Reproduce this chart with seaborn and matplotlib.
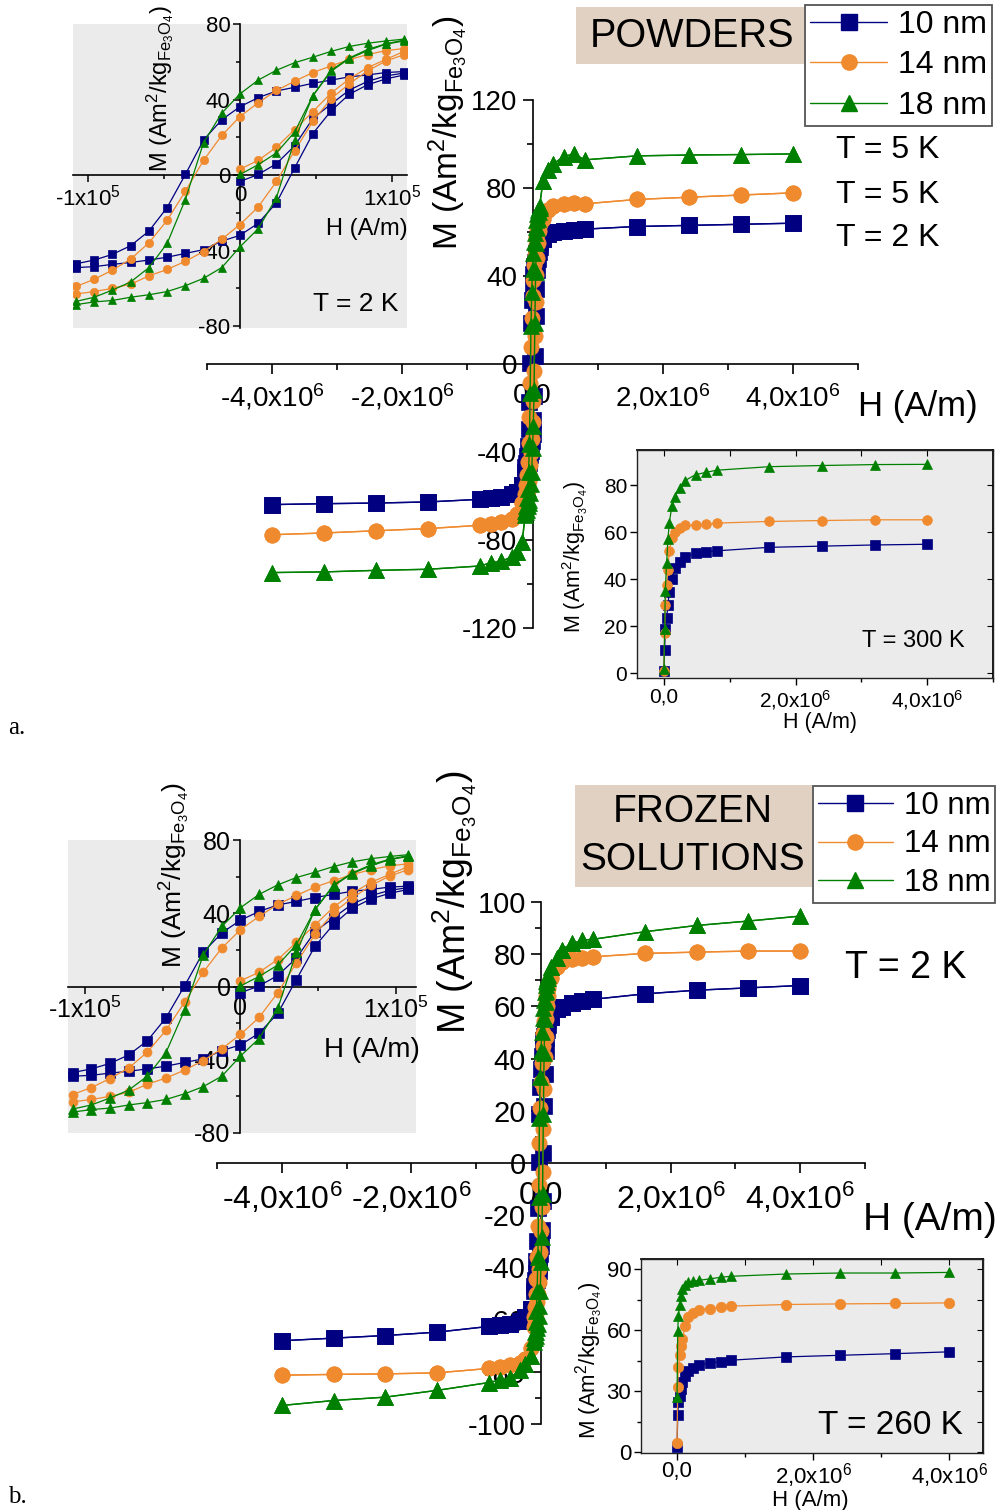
import matplotlib
matplotlib.use("Agg")
import matplotlib.pyplot as plt
import seaborn as sns
from matplotlib.lines import Line2D
from matplotlib.patches import Rectangle
from matplotlib.ticker import FixedLocator, MultipleLocator

sns.set_theme(style="ticks")
plt.rcParams["font.family"] = ["Liberation Sans", "DejaVu Sans"]
plt.rcParams["mathtext.default"] = "regular"
plt.rcParams["axes.unicode_minus"] = False
for k in ["text.color", "axes.labelcolor", "xtick.color", "ytick.color", "axes.edgecolor"]:
    plt.rcParams[k] = "black"

# ---------------- data ----------------
SIZES = ["10 nm", "14 nm", "18 nm"]
COLORS = {"10 nm": "#000080", "14 nm": "#F08A2E", "18 nm": "#008000"}
MARKERS = {"10 nm": "s", "14 nm": "o", "18 nm": "^"}

# main loops: outer field points (A/m)
H_NEG = [-4.0e6, -3.2e6, -2.4e6, -1.6e6, -0.8e6, -0.64e6, -0.48e6, -0.32e6, -0.24e6, -0.16e6]
H_POS = [0.16e6, 0.24e6, 0.32e6, 0.48e6, 0.64e6, 0.8e6, 1.6e6, 2.4e6, 3.2e6, 4.0e6]

# low-field hysteresis loop (2 K), same points for both panels
H_LOOP = [-108000, -96000, -84000, -72000, -60000, -48000, -36000, -24000, -12000, 0,
          12000, 24000, 36000, 48000, 60000, 72000, 84000, 96000, 108000]
H_VIRGIN = [0, 12000, 24000, 36000, 48000, 60000, 72000, 84000, 96000, 108000]

LOOP_DESC_10 = [-47, -45, -42, -37.4, -29.7, -17.2, 0.3, 18.6, 29.3, 36.2, 41, 44.5, 46.5, 48.6, 50.3, 52, 53, 54.3, 54.8]
LOOP_ASC_10 = [-49, -48.5, -47.3, -46.3, -45, -43.5, -41.5, -39.5, -35, -31.9, -25.5, -14.7, 3.8, 22, 34, 42.8, 47.8, 50.9, 53]
VIRGIN_10 = [-3.4, 0.3, 6, 15.5, 30, 37.6, 45, 49.6, 52.5, 54]

LOOP_DESC_14 = [-59, -55.2, -50.3, -44.5, -35.9, -24, -8.6, 7.8, 21, 31, 38.3, 44.8, 49.7, 54.3, 57.8, 61.2, 63.8, 65.9, 67]
LOOP_ASC_14 = [-63, -61.7, -60, -57.8, -53.4, -50, -45.7, -40.5, -34, -26.2, -16.9, -3.4, 12.9, 28.4, 40.5, 48.3, 55.2, 60.3, 63.8]
VIRGIN_14 = [3.1, 7.8, 14.7, 24.1, 33.6, 43.4, 50.9, 56.9, 61.2, 65.5]

LOOP_DESC_18 = [-66.9, -64.7, -60.9, -56.6, -49, -36.2, -13, 17.2, 32.8, 43, 50.3, 55.5, 59.5, 62.4, 65.5, 68.1, 69.8, 71, 72]
LOOP_ASC_18 = [-68.6, -67.2, -66.4, -64.7, -63.4, -61.7, -58.6, -54.7, -49, -38, -28.4, -12, 18.6, 42, 55, 61.7, 65.9, 69.3, 71]
VIRGIN_18 = [0.3, 5.5, 11.7, 22.8, 42, 55.5, 62, 66.5, 69.5, 71.5]

# panel a (powders) high-field points
A_NEG_10 = [-63.9, -63.5, -63.2, -62.7, -61.5, -60.9, -60.5, -59, -58, -55]
A_NEG_14 = [-77.6, -76.8, -75.8, -74.8, -73.3, -72.6, -71.8, -70.3, -68, -63]
A_NEG_18 = [-94.8, -94.5, -93.8, -93.3, -91.8, -90.3, -89.7, -87.7, -85.5, -81]
A_POS_10 = [57, 59, 59.8, 60.5, 61, 61.3, 62.5, 63, 63.5, 64]
A_POS_14 = [66, 70, 71.6, 72.8, 73, 72.8, 74.8, 75.8, 76.8, 77.8]
A_POS_18 = [83, 88, 91, 94.3, 95.5, 92.8, 94.6, 95, 95.2, 95.5]

# panel b (frozen solutions) high-field points
B_NEG_10 = [-68.1, -67.1, -66.1, -64.8, -62.6, -62.2, -61.7, -60.6, -59, -56]
B_NEG_14 = [-81.3, -81, -80.8, -80.4, -78.7, -78.2, -77.5, -76.5, -75, -71]
B_NEG_18 = [-92.9, -91, -89.7, -87.1, -84.1, -83.2, -82.3, -79.4, -77, -74]
B_POS_10 = [56, 59, 59.8, 61.4, 62, 62.7, 64.8, 66.2, 67.1, 68]
B_POS_14 = [71, 75, 77, 78, 78.6, 79, 80.3, 80.8, 81.2, 81.2]
B_POS_18 = [75, 78.5, 81.8, 84.1, 85.4, 85.7, 88.6, 91, 92.7, 94.6]

# room-temperature magnetisation curves
H_SAT = [0, 1e4, 2e4, 4e4, 6e4, 8e4, 1.2e5, 1.6e5, 2.4e5, 3.2e5, 4.8e5, 6.4e5, 8e5, 1.6e6, 2.4e6, 3.2e6, 4.0e6]
SAT300_10 = [1, 10, 19, 23.5, 29, 34.6, 40.3, 44.6, 47.5, 49.6, 51, 51.7, 52.1, 53.6, 54.1, 54.6, 54.9]
SAT300_14 = [1, 17, 29, 37.5, 44, 52, 57.5, 60.3, 62, 62.9, 63.1, 63.4, 63.9, 64.6, 65, 65.3, 65.3]
SAT300_18 = [1.7, 19, 35, 47, 57, 64, 71, 75, 79, 82, 84.5, 85.5, 86.4, 87.9, 88.4, 88.8, 88.9]
SAT260_10 = [2.4, 18, 24.5, 27.7, 31, 34.3, 37.5, 40, 41.5, 42.7, 43.7, 44.5, 45.2, 46.8, 47.6, 48.4, 49.3]
SAT260_14 = [4.6, 31.8, 41.6, 47.6, 52, 55.5, 62, 66.6, 68.5, 70.1, 70.6, 71.5, 71.8, 72.6, 72.9, 73.1, 73.4]
SAT260_18 = [27, 59.5, 67, 72.6, 76.7, 80, 82.4, 83.5, 84, 84.5, 85.2, 86, 86.5, 87.6, 88.1, 88.1, 88.4]

LOOP_DESC = {"10 nm": LOOP_DESC_10, "14 nm": LOOP_DESC_14, "18 nm": LOOP_DESC_18}
LOOP_ASC = {"10 nm": LOOP_ASC_10, "14 nm": LOOP_ASC_14, "18 nm": LOOP_ASC_18}
VIRGIN = {"10 nm": VIRGIN_10, "14 nm": VIRGIN_14, "18 nm": VIRGIN_18}
A_NEG = {"10 nm": A_NEG_10, "14 nm": A_NEG_14, "18 nm": A_NEG_18}
A_POS = {"10 nm": A_POS_10, "14 nm": A_POS_14, "18 nm": A_POS_18}
B_NEG = {"10 nm": B_NEG_10, "14 nm": B_NEG_14, "18 nm": B_NEG_18}
B_POS = {"10 nm": B_POS_10, "14 nm": B_POS_14, "18 nm": B_POS_18}
SAT300 = {"10 nm": SAT300_10, "14 nm": SAT300_14, "18 nm": SAT300_18}
SAT260 = {"10 nm": SAT260_10, "14 nm": SAT260_14, "18 nm": SAT260_18}

MAIN_XTICKS = [-4e6, -2e6, 0, 2e6, 4e6]
MAIN_XTICKLABELS = ["-4,0x10$^6$", "-2,0x10$^6$", "0,0", "2,0x10$^6$", "4,0x10$^6$"]
A_YTICKS = [-120, -80, -40, 0, 40, 80, 120]
B_YTICKS = [-100, -80, -60, -40, -20, 0, 20, 40, 60, 80, 100]
LOOP_XTICKS = [-1e5, 0, 1e5]
LOOP_XTICKLABELS = ["-1x10$^5$", "0", "1x10$^5$"]
LOOP_YTICKS = [-80, -40, 0, 40, 80]
SAT_XTICKS = [0, 2e6, 4e6]
SAT_XTICKLABELS = ["0,0", "2,0x10$^6$", "4,0x10$^6$"]
SAT300_YTICKS = [0, 20, 40, 60, 80]
SAT260_YTICKS = [0, 30, 60, 90]

M_LABEL = "M (Am$^2$/kg$_{Fe_3O_4}$)"
H_LABEL = "H (A/m)"

# ---------------- figure ----------------
FW, FH = 1002, 1510
fig = plt.figure(figsize=(FW / 100, FH / 100), dpi=100)
GRAY = "#EBEBEB"
TAN = "#E1D1C2"


def add_ax(px):
    x0, y0, x1, y1 = px
    return fig.add_axes([x0 / FW, 1 - y1 / FH, (x1 - x0) / FW, (y1 - y0) / FH])


def series(ax, h, m, size, ms, lw, z=3):
    sns.lineplot(x=h, y=m, sort=False, estimator=None, color=COLORS[size],
                 marker=MARKERS[size], markersize=ms, markeredgecolor=COLORS[size],
                 markeredgewidth=0.5, linewidth=lw, legend=False, ax=ax, zorder=z)


def place_labels(ax, fs, xy_x, xy_y):
    ax.set_xlabel(H_LABEL, fontsize=fs[0])
    ax.set_ylabel(M_LABEL, fontsize=fs[1])
    ax.xaxis.set_label_coords(*xy_x)
    ax.yaxis.set_label_coords(*xy_y)
    ax.xaxis.label.set_va("center")
    ax.yaxis.label.set_va("center")


def cross_axes(ax):
    ax.spines["top"].set_visible(False)
    ax.spines["right"].set_visible(False)
    ax.spines["left"].set_position(("data", 0))
    ax.spines["bottom"].set_position(("data", 0))
    for s in ["left", "bottom"]:
        ax.spines[s].set_linewidth(1.2)
        ax.spines[s].set_color("black")


def main_panel(px, ylim, yticks, yminor, neg, pos, fs_x, fs_y, fs_lab, xy_x, xy_y):
    ax = add_ax(px)
    ax.patch.set_alpha(0)
    hh = H_NEG + H_LOOP + H_POS
    for size in SIZES:
        series(ax, hh, neg[size] + LOOP_DESC[size] + pos[size], size, 11, 1.0)
        series(ax, hh, neg[size] + LOOP_ASC[size] + pos[size], size, 11, 1.0)
    ax.set_xlim(-5e6, 5e6)
    ax.set_ylim(*ylim)
    cross_axes(ax)
    ax.xaxis.set_major_locator(FixedLocator(MAIN_XTICKS))
    ax.set_xticklabels(MAIN_XTICKLABELS)
    ax.xaxis.set_minor_locator(MultipleLocator(1e6))
    ax.yaxis.set_major_locator(FixedLocator(yticks))
    ax.set_yticklabels([str(v) for v in yticks])
    ax.yaxis.set_minor_locator(MultipleLocator(yminor))
    ax.tick_params(which="major", direction="out", length=7, width=1.2)
    ax.tick_params(which="minor", direction="out", length=4, width=1.2)
    ax.tick_params(axis="x", labelsize=fs_x, pad=6)
    ax.tick_params(axis="y", labelsize=fs_y, pad=4)
    place_labels(ax, (fs_lab, fs_lab - 1), xy_x, xy_y)
    return ax


def loop_inset(px, xlim, ylim, fs_t, fs_x, fs_y, xy_x, xy_y, ms):
    ax = add_ax(px)
    ax.set_facecolor(GRAY)
    for size in SIZES:
        series(ax, H_LOOP, LOOP_DESC[size], size, ms, 0.9)
        series(ax, H_LOOP, LOOP_ASC[size], size, ms, 0.9)
        series(ax, H_VIRGIN, VIRGIN[size], size, ms, 0.9)
    ax.set_xlim(*xlim)
    ax.set_ylim(*ylim)
    cross_axes(ax)
    ax.xaxis.set_major_locator(FixedLocator(LOOP_XTICKS))
    ax.set_xticklabels(LOOP_XTICKLABELS)
    ax.xaxis.set_minor_locator(MultipleLocator(5e4))
    ax.yaxis.set_major_locator(FixedLocator(LOOP_YTICKS))
    ax.set_yticklabels([str(v) for v in LOOP_YTICKS])
    ax.yaxis.set_minor_locator(MultipleLocator(20))
    ax.tick_params(which="major", direction="out", length=5, width=1.1, labelsize=fs_t, pad=2)
    ax.tick_params(which="minor", direction="out", length=3, width=1.1)
    place_labels(ax, (fs_x, fs_y), xy_x, xy_y)
    return ax


def sat_inset(px, xlim, ylim, yticks, yminor, data, fs_t, fs_lab, xy_x, xy_y, ms, xpad=2):
    ax = add_ax(px)
    ax.set_facecolor(GRAY)
    for size in SIZES:
        series(ax, H_SAT, data[size], size, ms, 0.9)
    ax.set_xlim(*xlim)
    ax.set_ylim(*ylim)
    for s in ax.spines.values():
        s.set_linewidth(1.0)
        s.set_color("#222222")
    ax.xaxis.set_major_locator(FixedLocator(SAT_XTICKS))
    ax.set_xticklabels(SAT_XTICKLABELS)
    ax.xaxis.set_minor_locator(MultipleLocator(1e6))
    ax.yaxis.set_major_locator(FixedLocator(yticks))
    ax.set_yticklabels([str(v) for v in yticks])
    if yminor:
        ax.yaxis.set_minor_locator(MultipleLocator(yminor))
    ax.tick_params(which="major", direction="out", length=5, width=1.0, labelsize=fs_t, pad=2)
    ax.tick_params(axis="x", pad=xpad)
    ax.tick_params(which="minor", direction="out", length=3, width=1.0)
    top = ax.secondary_xaxis("top")
    top.xaxis.set_major_locator(FixedLocator(SAT_XTICKS))
    top.xaxis.set_minor_locator(MultipleLocator(1e6))
    top.tick_params(which="both", direction="in", labeltop=False, length=4, width=0.8)
    right = ax.secondary_yaxis("right")
    right.yaxis.set_major_locator(FixedLocator(yticks))
    if yminor:
        right.yaxis.set_minor_locator(MultipleLocator(yminor))
    right.tick_params(which="both", direction="in", labelright=False, length=4, width=0.8)
    place_labels(ax, (fs_lab, fs_lab), xy_x, xy_y)
    return ax


def legend_at(x1, y0, fs, spacing):
    handles = [Line2D([], [], color=COLORS[s], marker=MARKERS[s], markersize=11,
                      markeredgecolor=COLORS[s], lw=1.0) for s in SIZES]
    leg = fig.legend(handles, SIZES, loc="upper right", bbox_to_anchor=(x1 / FW, 1 - y0 / FH),
                     fontsize=fs, frameon=True, fancybox=False, edgecolor="#555555",
                     framealpha=1, borderpad=0.15, labelspacing=spacing, handlelength=2.4,
                     handletextpad=0.35, borderaxespad=0)
    leg.get_frame().set_linewidth(1.3)


def tan_box(x0, y0, x1, y1):
    fig.add_artist(Rectangle((x0 / FW, 1 - y1 / FH), (x1 - x0) / FW, (y1 - y0) / FH,
                             transform=fig.transFigure, facecolor=TAN, edgecolor="none", zorder=5))


def ftext(x, y, s, fs, ha="center", **kw):
    fig.text(x / FW, 1 - y / FH, s, fontsize=fs, ha=ha, va="center", zorder=6, **kw)


# ---- panel a: powders ----
main_panel((207, 100, 858, 628), (-120, 120), A_YTICKS, 20, A_NEG, A_POS,
           20, 20, 25, (1.092, 0.4186), (0.370, 0.9375))
ax_a1 = loop_inset((73, 24, 407, 328), (-1.1e5, 1.1e5), (-81, 80), 16, 17, 17,
                   (0.88, 0.326), (0.26, 0.789), 6)
ax_a1.text(0.847, 0.079, "T = 2 K", transform=ax_a1.transAxes, fontsize=19,
           ha="center", va="center")
ax_a2 = sat_inset((637, 450, 993, 678), (-0.41e6, 5.0e6), (-2, 95), SAT300_YTICKS, None,
                  SAT300, 15, 15.5, (0.514, -0.197), (-0.174, 0.531), 7)
ax_a2.text(0.775, 0.162, "T = 300 K", transform=ax_a2.transAxes, fontsize=17,
           ha="center", va="center")
tan_box(576, 7, 804, 64)
ftext(692, 36, "POWDERS", 28.5)
legend_at(992, 5, 23, 0.33)
ftext(836, 150, "T = 5 K", 23, ha="left")
ftext(836, 195, "T = 5 K", 23, ha="left")
ftext(836, 238, "T = 2 K", 23, ha="left")
ftext(8, 728, "a.", 18, ha="left", family=["Liberation Serif", "DejaVu Serif"])

# ---- panel b: frozen solutions ----
main_panel((217, 902, 865, 1424), (-100, 100), B_YTICKS, 10, B_NEG, B_POS,
           23, 21, 28, (1.100, 0.391), (0.367, 1.0))
ax_b1 = loop_inset((68, 840, 416, 1133), (-1.11e5, 1.13e5), (-80, 80), 18, 20, 19,
                   (0.874, 0.283), (0.307, 0.88), 6.5)
ax_b2 = sat_inset((641, 1259, 983, 1453), (-0.53e6, 4.5e6), (-0.5, 95), SAT260_YTICKS, 15,
                  SAT260, 16, 16, (0.494, -0.245), (-0.149, 0.479), 7.5, xpad=1)
ax_b2.text(0.728, 0.144, "T = 260 K", transform=ax_b2.transAxes, fontsize=24,
           ha="center", va="center")
tan_box(575, 785, 812, 887)
ftext(693, 812, "FROZEN", 28)
ftext(693, 860, "SOLUTIONS", 28)
legend_at(995, 786, 22.5, 0.28)
ftext(845, 968, "T = 2 K", 27, ha="left")
ftext(8, 1497, "b.", 18, ha="left", family=["Liberation Serif", "DejaVu Serif"])

fig.savefig("out.png", dpi=100)
